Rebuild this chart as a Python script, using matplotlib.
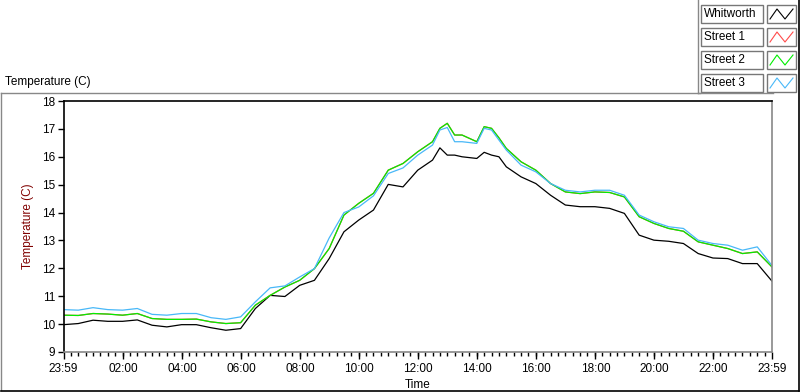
import matplotlib
matplotlib.use("Agg")
import matplotlib.pyplot as plt
from matplotlib.patches import Rectangle
from matplotlib.lines import Line2D

# hours since 23:59 of the previous day
hours = [0, 0.5, 1, 1.5, 2, 2.5, 3, 3.5, 4, 4.5,
         5, 5.5, 6, 6.5, 7, 7.5, 8, 8.5, 9, 9.5,
         10, 10.5, 11, 11.5, 12, 12.5, 12.75, 13, 13.25, 13.5, 14, 14.25, 14.5, 14.75,
         15, 15.5, 16, 16.5, 17, 17.5, 18, 18.5, 19, 19.5,
         20, 20.5, 21, 21.5, 22, 22.5, 23, 23.5, 24]

whitworth = [9.98, 10.02, 10.14, 10.10, 10.10, 10.15, 9.96, 9.90, 9.98, 9.98,
             9.87, 9.78, 9.84, 10.56, 11.03, 10.99, 11.39, 11.57, 12.35, 13.31,
             13.73, 14.09, 15.01, 14.92, 15.52, 15.88, 16.32, 16.06, 16.06, 16.00, 15.94, 16.16, 16.06, 16.00,
             15.64, 15.28, 15.04, 14.62, 14.27, 14.21, 14.21, 14.15, 13.97, 13.19,
             13.01, 12.97, 12.89, 12.53, 12.37, 12.35, 12.17, 12.17, 11.54]
street_2 = [10.32, 10.31, 10.38, 10.36, 10.32, 10.38, 10.20, 10.17, 10.17, 10.18,
            10.08, 10.02, 10.05, 10.68, 11.03, 11.33, 11.57, 11.99, 12.71, 13.91,
            14.33, 14.69, 15.52, 15.76, 16.18, 16.54, 17.02, 17.20, 16.78, 16.78, 16.54, 17.08, 17.02, 16.68,
            16.30, 15.82, 15.52, 15.04, 14.74, 14.68, 14.74, 14.72, 14.56, 13.85,
            13.61, 13.43, 13.33, 12.95, 12.83, 12.71, 12.53, 12.59, 12.05]
# Street 1 is hidden under Street 2 in the picture
street_1 = list(street_2)
street_3 = [10.52, 10.50, 10.59, 10.52, 10.50, 10.56, 10.35, 10.32, 10.38, 10.38,
            10.23, 10.17, 10.26, 10.80, 11.30, 11.37, 11.69, 11.99, 13.09, 14.00,
            14.20, 14.60, 15.40, 15.60, 16.06, 16.42, 16.96, 17.05, 16.54, 16.54, 16.48, 17.02, 16.96, 16.60,
            16.24, 15.70, 15.46, 15.04, 14.80, 14.74, 14.80, 14.80, 14.62, 13.91,
            13.67, 13.49, 13.43, 13.01, 12.89, 12.83, 12.65, 12.77, 12.10]

names = ["Whitworth", "Street 1", "Street 2", "Street 3"]
colors = ["black", "#ff4a4a", "#00ee00", "#48b8f8"]

tick_pos = [0] + [h + 1 / 60 for h in range(2, 24, 2)] + [24]
tick_labels = ["23:59", "02:00", "04:00", "06:00", "08:00", "10:00", "12:00",
               "14:00", "16:00", "18:00", "20:00", "22:00", "23:59"]

plt.rcParams['font.family'] = ['Liberation Sans', 'DejaVu Sans']

W, H = 800, 392
fig = plt.figure(figsize=(W / 100, H / 100), dpi=100)

def fx(px):
    return px / W

def fy(py):
    return 1 - py / H

# outer frame
fig.add_artist(Line2D([fx(1), fx(700)], [fy(93), fy(93)], color="#888888", lw=1))
fig.add_artist(Line2D([fx(1), fx(1)], [fy(93), fy(390)], color="#888888", lw=1))
fig.add_artist(Line2D([fx(1), fx(799)], [fy(390.5), fy(390.5)], color="black", lw=1.2))
fig.add_artist(Line2D([fx(798.5), fx(798.5)], [fy(0), fy(390.5)], color="black", lw=1.2))
fig.add_artist(Line2D([fx(698), fx(698)], [fy(0), fy(93)], color="#888888", lw=1))
fig.add_artist(Line2D([fx(698), fx(773)], [fy(93), fy(93)], color="#888888", lw=1))

fig.text(fx(5), fy(82), "Temperature (C)", fontsize=8.5, va="center", ha="left")

ax = fig.add_axes([fx(63.5), fy(352), fx(772 - 63.5), fy(101) - fy(352)])
series = [whitworth, street_1, street_2, street_3]
for vals, c in zip(series, colors):
    ax.plot(hours, vals, color=c, lw=0.9)

ax.set_xlim(0, 24)
ax.set_ylim(9, 18)
ax.set_yticks(range(9, 19))
ax.set_xticks(tick_pos)
ax.set_xticklabels(tick_labels)
ax.set_xticks([q * 0.25 for q in range(97)], minor=True)
ax.tick_params(axis="both", labelsize=8.5, colors="black", width=1)
ax.tick_params(axis="x", which="major", length=5, pad=3)
ax.tick_params(axis="x", which="minor", length=3, width=1)
ax.tick_params(axis="y", length=4, pad=2)
ax.spines["top"].set_color("black")
ax.spines["left"].set_color("black")
ax.spines["right"].set_color("#888888")
ax.spines["bottom"].set_color("#888888")
for s in ax.spines.values():
    s.set_linewidth(1.2)
ax.set_xlabel("Time", fontsize=8.5, labelpad=3)
ax.set_ylabel("Temperature (C)", fontsize=8.5, color="#800000", labelpad=6)

# legend boxes
row_top = [5, 28, 51, 74]
for name, c, top in zip(names, colors, row_top):
    fig.add_artist(Rectangle((fx(701), fy(top + 18)), fx(62), fy(top) - fy(top + 18),
                             fill=False, edgecolor="#777777", lw=1))
    fig.add_artist(Rectangle((fx(767), fy(top + 18)), fx(29), fy(top) - fy(top + 18),
                             fill=False, edgecolor="#777777", lw=1))
    fig.text(fx(704), fy(top + 9), name, fontsize=8.5, va="center", ha="left")
    zx = [770, 777, 785, 793]
    zy = [top + 14, top + 4, top + 14, top + 4]
    fig.add_artist(Line2D([fx(v) for v in zx], [fy(v) for v in zy], color=c, lw=0.8))

fig.savefig("out.png", dpi=100)
